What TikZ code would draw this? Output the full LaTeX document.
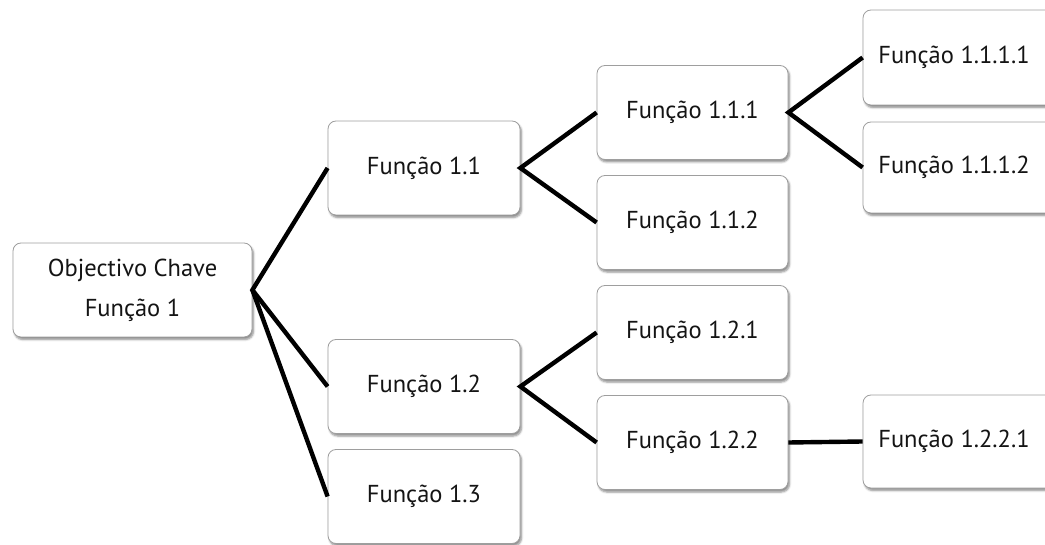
\documentclass[tikz,border=0pt]{standalone}
\usepackage{fontspec}
\setmainfont{PT Sans}
\usetikzlibrary{shadows.blur}
\tikzset{
  fbox/.style={draw=black!38, line width=0.8pt, fill=white, rounded corners=8pt,
    minimum width=192pt, minimum height=94pt, inner sep=0pt, align=center,
    font=\fontsize{24.5}{40}\selectfont, text=black!92,
    blur shadow={shadow xshift=1.5pt, shadow yshift=-2.5pt, shadow blur steps=5,
      shadow blur extra rounding=1.5pt, shadow opacity=45}},
  link/.style={line width=4.4pt, black}
}
\begin{document}
\begin{tikzpicture}[x=1pt,y=-1pt]
\useasboundingbox (0,0) rectangle (1045,545);
\begin{scope}
\clip (0,0) rectangle (1045,545);
% root
\node[fbox, minimum width=239pt] (obj) at (132.5,290) {Objectivo Chave\\Função 1};
% second level
\node[fbox] (f11) at (424,168) {Função 1.1};
\node[fbox] (f12) at (424,386.5) {Função 1.2};
\node[fbox] (f13) at (424,496.5) {Função 1.3};
% third level
\node[fbox, minimum width=191pt] (f111) at (692.5,112.5) {Função 1.1.1};
\node[fbox, minimum width=191pt] (f112) at (692.5,222.5) {Função 1.1.2};
\node[fbox, minimum width=191pt] (f121) at (692.5,332.5) {Função 1.2.1};
\node[fbox, minimum width=191pt] (f122) at (692.5,442.5) {Função 1.2.2};
% fourth level (boxes run past the right edge)
\node[fbox, minimum height=95pt] (f1111) at (959,57.5) {\hspace*{-10pt}Função 1.1.1.1};
\node[fbox, minimum height=91pt] (f1112) at (959,167.5) {\hspace*{-10pt}Função 1.1.1.2};
\node[fbox, minimum height=93pt] (f1221) at (959,441.5) {\hspace*{-10pt}Função 1.2.2.1};
% connectors
\draw[link] (f11.west) -- (obj.east) -- (f12.west);
\draw[link] (obj.east) -- (f13.west);
\draw[link] (f111.west) -- (f11.east) -- (f112.west);
\draw[link] (f1111.west) -- (f111.east) -- (f1112.west);
\draw[link] (f121.west) -- (f12.east) -- (f122.west);
\draw[link] (f122.east) -- (f1221.west);
\end{scope}
\end{tikzpicture}
\end{document}
